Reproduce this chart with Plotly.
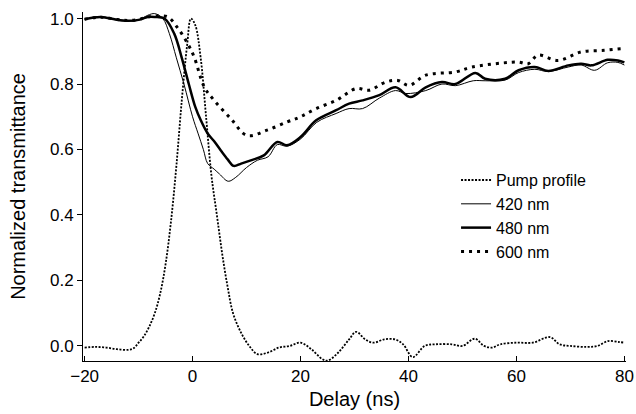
import plotly.graph_objects as go

# --- Data (delay in ns, normalized transmittance) ---
pump_x = [-20, -18, -16, -14, -12, -11, -10, -9, -8, -7, -6, -5, -4, -3, -2, -1, -0.3,
          0.5, 1.5, 2.5, 3.5, 4.5, 5.5, 6.5, 7.5, 9, 10.5, 12, 14, 16, 18, 20, 22, 24,
          25, 27, 29, 30.3, 32, 33.5, 35.5, 37.5, 39, 40.8, 43, 45, 48, 50, 52.3, 54,
          55.5, 57, 60, 63, 66.2, 68, 70, 73, 75, 77, 79, 80]
pump_y = [-0.005, -0.003, -0.005, -0.01, -0.012, -0.008, 0.01, 0.03, 0.06, 0.10, 0.16,
          0.25, 0.38, 0.55, 0.75, 0.92, 1.0, 0.98, 0.88, 0.70, 0.52, 0.40, 0.28, 0.18,
          0.10, 0.04, 0.0, -0.025, -0.02, -0.005, 0.0, 0.01, -0.01, -0.04, -0.045, -0.02,
          0.02, 0.043, 0.02, 0.01, 0.02, 0.02, 0.005, -0.034, 0.0, 0.005, 0.005, 0.0,
          0.022, 0.0, -0.005, 0.005, 0.01, 0.01, 0.027, 0.005, 0.0, -0.003, 0.0, 0.015,
          0.012, 0.01]

nm420_x = [-20, -17, -14, -12, -10, -8.3, -7, -5.5, -4.3, -3, -1.6, 0, 1, 2, 2.8, 4, 5,
           6.6, 8, 10, 12, 14, 15.7, 17.5, 20, 23, 26.6, 29, 31.5, 34.6, 37.6, 39.5,
           43.2, 46.2, 48.7, 52, 54.2, 57.9, 60.4, 63.4, 65.9, 69.6, 72, 74.5, 76.9,
           78.8, 80]
nm420_y = [0.997, 1.006, 0.995, 0.992, 0.995, 1.01, 1.015, 1.0, 0.954, 0.88, 0.80, 0.70,
           0.65, 0.60, 0.557, 0.54, 0.525, 0.503, 0.515, 0.545, 0.567, 0.578, 0.615, 0.61,
           0.632, 0.683, 0.71, 0.725, 0.725, 0.757, 0.78, 0.771, 0.78, 0.80, 0.795, 0.81,
           0.81, 0.812, 0.835, 0.845, 0.838, 0.852, 0.858, 0.842, 0.865, 0.866, 0.858]

nm480_x = [-20, -17, -14, -12, -10, -8.3, -7, -5.2, -3.4, -2, -0.7, 0.5, 1.5, 2.8, 4,
           5.2, 6.5, 7.6, 9, 10.8, 13.2, 15.7, 17.5, 20, 22.9, 26.6, 29, 31.5, 34.6,
           37.6, 40.4, 43.2, 46.2, 48.7, 52.4, 54.2, 57.9, 60.4, 63.4, 65.9, 69.6, 72,
           73.9, 76.9, 78.8, 80]
nm480_y = [0.998, 1.005, 0.996, 0.993, 0.996, 1.005, 1.005, 1.0, 0.954, 0.88, 0.80, 0.73,
           0.69, 0.649, 0.625, 0.598, 0.57, 0.55, 0.557, 0.567, 0.582, 0.623, 0.613,
           0.638, 0.689, 0.72, 0.74, 0.75, 0.766, 0.79, 0.76, 0.79, 0.806, 0.80, 0.834,
           0.816, 0.816, 0.842, 0.852, 0.84, 0.857, 0.862, 0.857, 0.874, 0.872, 0.866]

nm600_x = [-20, -17, -14, -12, -10, -8.3, -6.5, -4.6, -2.7, -0.9, 0.3, 2.2, 4.0, 7.1,
           10.1, 13.8, 17.5, 20, 22.9, 26.6, 30.3, 32.7, 35.8, 38, 40.1, 43.2, 48.7,
           51.8, 57.3, 60.4, 62.2, 64, 67.7, 72, 76.3, 79.4, 80]
nm600_y = [0.998, 1.004, 0.997, 0.994, 0.997, 1.005, 1.008, 1.005, 0.97, 0.923, 0.882,
           0.79, 0.75, 0.694, 0.643, 0.659, 0.684, 0.70, 0.725, 0.75, 0.786, 0.781,
           0.806, 0.811, 0.796, 0.827, 0.837, 0.852, 0.864, 0.867, 0.862, 0.888, 0.872,
           0.898, 0.903, 0.908, 0.908]

fig = go.Figure()
fig.add_trace(go.Scatter(x=pump_x, y=pump_y, mode="lines", name="Pump profile",
                         line=dict(color="black", width=1.8, dash="2px,1.5px", shape="spline")))
fig.add_trace(go.Scatter(x=nm420_x, y=nm420_y, mode="lines", name="420 nm",
                         line=dict(color="black", width=1, shape="spline")))
fig.add_trace(go.Scatter(x=nm480_x, y=nm480_y, mode="lines", name="480 nm",
                         line=dict(color="black", width=2.5, shape="spline")))
fig.add_trace(go.Scatter(x=nm600_x, y=nm600_y, mode="lines", name="600 nm",
                         line=dict(color="black", width=3, dash="3px,5px", shape="spline")))

fig.update_layout(
    width=636, height=414,
    margin=dict(l=83, r=10, t=12, b=53),
    paper_bgcolor="white", plot_bgcolor="white",
    font=dict(family="Liberation Sans, Arial", size=17, color="black"),
    legend=dict(x=0.687, y=0.567, xanchor="left", yanchor="top",
                bgcolor="rgba(0,0,0,0)", itemwidth=30, tracegroupgap=0,
                font=dict(size=16)),
    xaxis=dict(range=[-20.3, 80.3], tickvals=[-20, 0, 20, 40, 60, 80],
               showline=True, linecolor="black", linewidth=1, showgrid=False,
               zeroline=False, ticks="inside", ticklen=5, tickcolor="black",
               automargin=False, title=dict(text="Delay (ns)", standoff=6)),
    yaxis=dict(range=[-0.046, 1.02], tickvals=[0, 0.2, 0.4, 0.6, 0.8, 1.0],
               tickformat=".1f", showline=True, linecolor="black", linewidth=1,
               showgrid=False, zeroline=False, ticks="outside", ticklen=5,
               tickcolor="black", automargin=False,
               title=dict(text="Normalized transmittance", standoff=18)),
)

# drop the browser's default body margin so the figure sits at the page corner
fig.write_html("out.html", config={"displayModeBar": False},
               post_script="document.body.style.margin='0';")
